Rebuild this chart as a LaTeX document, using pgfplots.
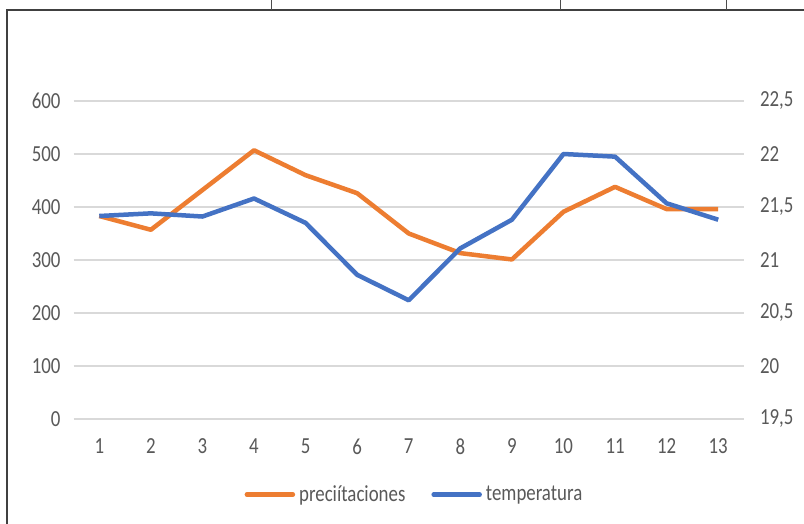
\documentclass[border=0pt]{standalone}
\usepackage{fontspec}
\setmainfont{Carlito}[FakeStretch=0.82]
\usepackage{pgfplots}
\pgfplotsset{compat=1.18}
\definecolor{exorange}{HTML}{ED7D31}
\definecolor{exblue}{HTML}{4472C4}
\definecolor{extext}{HTML}{595959}
\definecolor{exgrid}{HTML}{D9D9D9}
\begin{document}
\begin{tikzpicture}
\path[use as bounding box, fill=white] (0,0) rectangle (402pt,262pt);
\draw[color=black!75, line width=1.1pt] (3.5pt,0) -- (3.5pt,257pt) -- (402pt,257pt);
\foreach \xx in {135.5pt,280pt,363pt} {\draw[black!70, line width=0.5pt] (\xx,257pt) -- (\xx,262pt);}
\begin{axis}[
  at={(36.75pt,52.5pt)}, anchor=south west,
  scale only axis, width=335.25pt, height=159pt,
  xmin=0.5, xmax=13.5, ymin=0, ymax=600,
  xtick={1,...,13}, ytick={0,100,...,600},
  axis line style={draw=none}, major tick style={draw=none},
  ymajorgrids, grid style={exgrid, line width=0.75pt},
  font=\fontsize{11.5pt}{13pt}\selectfont,
  tick label style={text=extext},
  /pgf/number format/assume math mode=true,
  yticklabel style={xshift=-3pt},
  xticklabel style={yshift=-6.5pt},
  legend columns=2,
  legend style={draw=none, fill=none, at={(0.51,-0.238)}, anchor=center,
    font=\fontsize{11.5pt}{13pt}\selectfont, text=extext,
    /tikz/every even column/.append style={column sep=11pt},
    inner sep=0pt},
  legend image code/.code={\draw[#1, line cap=round] (0pt,0pt) -- (23pt,0pt);},
]
\addplot[exorange, line width=2.25pt, line join=round] coordinates {
(1,383) (2,357) (3,432) (4,507) (5,460) (6,426) (7,350) (8,313) (9,301) (10,391) (11,438) (12,396) (13,396)};
\addlegendentry{preciítaciones}
\addlegendimage{exblue, line width=2.25pt}
\addlegendentry{temperatura}
\end{axis}
\begin{axis}[
  at={(36.75pt,52.5pt)}, anchor=south west,
  scale only axis, width=335.25pt, height=159pt,
  xmin=0.5, xmax=13.5, ymin=19.5, ymax=22.5,
  ytick={19.5,20,...,22.5},
  axis y line*=right, hide x axis,
  axis line style={draw=none}, major tick style={draw=none},
  font=\fontsize{11.5pt}{13pt}\selectfont,
  tick label style={text=extext},
  /pgf/number format/assume math mode=true,
  /pgf/number format/use comma, /pgf/number format/fixed,
  yticklabel style={xshift=4.5pt},
]
\addplot[exblue, line width=2.25pt, line join=round] coordinates {
(1,21.415) (2,21.44) (3,21.41) (4,21.58) (5,21.35) (6,20.86) (7,20.62) (8,21.11) (9,21.38) (10,22.0) (11,21.975) (12,21.535) (13,21.38)};
\end{axis}
\end{tikzpicture}
\end{document}
